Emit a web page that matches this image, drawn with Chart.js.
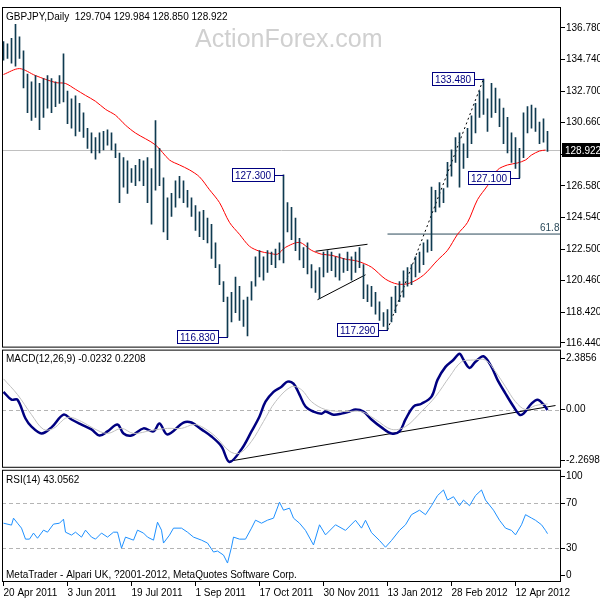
<!DOCTYPE html>
<html>
<head>
<meta charset="utf-8">
<script src="https://cdn.jsdelivr.net/npm/chart.js@4.4.0/dist/chart.umd.min.js"></script>
<style>
  html, body { margin: 0; padding: 0; background: #fff; }
  #chart { display: block; }
</style>
</head>
<body>
<canvas id="chart" width="600" height="600"></canvas>
<script>
// GBPJPY daily, one bar for every two sessions (bar index = session number)
var highs = [135.9,135.75,136.1,137.0,136.2,135.3,133.8,133.3,133.7,133.2,
  133.5,133.7,133.5,133.3,133.7,135.1,132.7,132.2,132.4,131.9,
  131.3,130.3,130.0,129.7,130.0,130.1,130.2,130.0,129.3,128.7,
  128.4,128.2,127.7,127.9,128.3,128.2,128.4,127.7,130.8,129.0,
  127.1,125.8,126.1,126.9,127.2,126.9,126.3,125.8,125.3,124.9,
  125.0,124.5,124.1,122.9,121.5,120.4,119.4,119.7,120.7,120.1,
  119.2,119.4,120.4,122.0,122.4,122.0,122.4,122.3,122.5,122.9,
  127.3,125.5,125.2,124.5,123.2,122.6,122.9,121.5,121.1,121.3,
  122.3,122.4,122.3,122.0,122.2,121.9,122.3,122.0,122.3,122.6,
  121.5,120.2,120.1,119.7,119.1,118.4,118.6,119.4,120.1,120.4,
  121.1,121.3,121.5,122.0,122.3,122.9,123.1,126.5,126.3,126.8,
  126.4,128.1,128.9,129.7,130.0,129.3,130.3,131.1,131.9,132.7,
  133.48,132.2,133.2,132.9,132.2,131.6,131.0,130.0,129.7,129.0,
  131.3,131.7,131.8,131.6,130.7,130.9,130.1];
var lows = [134.7,134.8,134.5,134.3,134.8,132.9,131.3,130.8,131.0,130.2,
  131.0,131.6,131.3,131.7,131.9,132.0,130.6,130.3,129.8,130.1,
  129.7,129.0,128.7,128.3,128.7,128.9,129.2,128.9,128.4,125.5,
  126.5,126.1,126.8,126.6,126.9,126.6,125.5,124.1,126.3,126.6,
  123.6,123.1,124.6,125.2,125.8,125.5,125.2,124.6,123.7,123.3,
  123.1,122.9,121.9,121.3,120.2,119.1,116.83,117.8,118.4,117.9,
  117.5,116.9,119.2,120.1,120.7,120.5,121.0,121.5,121.3,121.8,
  121.6,123.6,123.1,122.4,121.8,121.3,120.9,120.0,119.7,119.3,
  120.7,121.0,121.1,120.7,120.5,121.0,121.1,120.5,121.0,121.3,
  119.3,119.1,118.8,118.3,117.9,117.5,117.29,117.8,118.4,119.1,
  119.4,120.1,120.2,120.7,121.0,121.5,122.3,122.4,124.9,125.2,
  125.5,126.5,127.2,128.1,126.5,127.7,128.4,129.3,130.0,131.0,
  131.2,130.1,131.0,131.3,130.4,129.3,128.7,128.1,127.7,127.1,
  128.4,130.0,130.3,130.1,129.3,129.4,128.8];

// moving average (red)
var maIdx = [0,8,16,26,31,36,41,46,51,56,61,66,76,83,88,93,98,103,108,113,118,123,128,133,137,141,148,154,159,164,171,177,184,191,197,203,210,217,222,227,232,237,242,247,252,257,261,264,268,271];
var maVals = [133.77,134.15,133.70,133.25,133.19,132.81,132.42,132.04,131.52,131.14,130.50,129.99,129.22,128.25,127.93,127.61,127.16,126.33,125.50,124.22,123.45,122.68,122.36,122.23,122.17,122.61,122.93,122.42,122.17,122.10,121.85,121.72,121.33,120.56,120.24,120.30,120.82,121.78,122.42,123.45,124.22,125.69,126.59,127.61,127.93,128.06,128.25,128.57,128.83,128.89];

// MACD main line
var macdIdx = [0,4,7,11,14,19,24,30,34,39,44,48,52,57,60,64,70,75,78,82,90,94,99,104,109,113,119,124,128,131,135,139,142,145,148,151,155,159,161,165,169,173,176,180,184,189,194,198,201,205,209,214,217,221,225,228,230,233,236,240,244,247,251,255,258,260,264,267,270,272];
var macdVals = [0.70,0.39,0.39,-0.35,-0.67,-0.94,-0.70,-0.20,-0.39,-0.59,-0.78,-1.02,-0.86,-0.59,-0.94,-1.02,-0.74,-0.86,-0.55,-0.98,-0.51,-0.51,-0.78,-1.06,-1.45,-2.06,-1.56,-0.86,-0.27,0.31,0.70,0.90,1.10,1.02,0.59,0.12,-0.08,-0.16,-0.08,-0.20,-0.16,-0.08,0.00,-0.08,-0.39,-0.70,-0.94,-0.86,-0.39,0.12,0.23,0.51,1.17,1.68,1.96,2.20,1.96,1.64,1.88,2.10,1.68,1.17,0.63,0.12,-0.20,-0.16,0.23,0.39,0.20,-0.02];
// MACD signal line
var sigIdx = [0,7,14,20,25,32,39,45,52,59,65,74,82,89,95,99,106,113,118,124,130,136,144,149,154,161,171,179,186,194,201,209,216,223,229,235,241,246,251,256,261,266,272];
var sigVals = [1.21,0.59,-0.20,-0.78,-0.74,-0.31,-0.47,-0.74,-0.94,-0.74,-0.94,-0.82,-0.74,-0.74,-0.59,-0.67,-1.06,-1.64,-1.72,-1.25,-0.47,0.31,0.90,0.78,0.31,0.00,-0.08,-0.08,-0.39,-0.78,-0.67,-0.08,0.51,1.29,1.88,1.95,1.95,1.49,0.90,0.31,0.00,0.16,0.22];

// RSI(14)
var rsiIdx = [0,4,5,7,9,11,13,15,17,20,22,25,28,30,31,34,36,39,41,44,46,49,52,55,57,59,61,65,67,70,72,75,77,79,80,83,85,89,92,95,99,102,105,107,110,112,114,115,118,121,124,126,129,132,135,138,140,143,145,148,151,155,158,161,166,171,176,179,181,184,188,191,194,198,201,204,208,211,214,217,220,222,225,228,230,233,236,239,241,245,248,251,254,256,259,261,264,266,269,271,272];
var rsiVals = [52.4,50.7,56.9,52.4,48,38.2,38.2,43.6,39,46.2,44.4,51.6,52.4,56,44.4,41.8,44.4,40,46.2,40,38.2,43.6,40,44.4,44.4,30.2,40,37.3,46.2,43.6,40,37.3,53.3,46.2,34.7,41.8,48,48,44.4,40,37.3,34.7,26.7,27.6,24,16.9,31.1,40,38.2,38.2,48,55.1,52.4,55.1,56.9,71.1,64,65.8,56.9,52.4,46,33,51,42,51,46,55,48,55,44,37,31,37,46,51,60,64,60,68,77,82,73,76,68,73,68,77,82,73,64,55,48,46,42,51,60,57,55,51,46,43.06];

// drawn objects
var fibFrom = [192, 117.29], fibTo = [240, 133.48];
var fibLevel = 123.47;
var triUpper = [[156, 122.36], [182, 122.81]];
var triLower = [[157, 119.23], [181, 120.84]];
var macdTrend = [[113, -2.03], [276, 0.16]];
var bid = 128.922;

var annIdx = [240, 140, 112, 192, 258];
var annVals = [133.48, 127.30, 116.83, 117.29, 127.10];

// axes
var dateIdx = [0, 32, 64, 96, 128, 160, 192, 224, 256];
var dateLabels = ['20 Apr 2011', '3 Jun 2011', '19 Jul 2011', '1 Sep 2011', '17 Oct 2011', '30 Nov 2011', '13 Jan 2012', '28 Feb 2012', '12 Apr 2012'];
var mainTicks = [116.44, 118.42, 120.46, 122.50, 124.54, 126.58, 128.62, 130.66, 132.70, 134.74, 136.78];
var macdTickPos = [2.03, 0, -2.0];
var macdTickText = ['2.3856', '0.00', '-2.2698'];
var rsiTickPos = [94, 70, 30, 6];
var rsiTickText = ['100', '70', '30', '0'];

var FONT = '"Liberation Sans", Arial, sans-serif';
Chart.defaults.font.family = FONT;
Chart.defaults.font.size = 10;
Chart.defaults.color = '#000';

function pts(xs, ys) {
    return xs.map(function(x, i) { return {x: x, y: ys[i]}; });
}
function seg(p) {
    return p.map(function(q) { return {x: q[0], y: q[1]}; });
}

function hline(ctx, x0, x1, y, color, dash) {
    ctx.beginPath();
    ctx.setLineDash(dash || []);
    ctx.strokeStyle = color;
    ctx.lineWidth = 1;
    ctx.moveTo(x0, y);
    ctx.lineTo(x1, y);
    ctx.stroke();
    ctx.setLineDash([]);
}

var overlay = {
    id: 'overlay',
    beforeDatasetsDraw: function(chart) {
        var ctx = chart.ctx, a = chart.chartArea, s = chart.scales;
        ctx.save();
        ctx.fillStyle = '#d0d0d0';
        ctx.font = '25px ' + FONT;
        ctx.textBaseline = 'alphabetic';
        ctx.textAlign = 'left';
        ctx.fillText('ActionForex.com', 195, 47);

        var yb = Math.round(s.y.getPixelForValue(bid)) + 0.5;
        hline(ctx, a.left, a.right, yb, '#c0c0c0');
        var y0 = Math.round(s.yMacd.getPixelForValue(0)) + 0.5;
        hline(ctx, a.left, a.right, y0, '#b4b4b4', [4, 3]);
        [70, 30].forEach(function(v) {
            var yy = Math.round(s.yRsi.getPixelForValue(v)) + 0.5;
            hline(ctx, a.left, a.right, yy, '#b4b4b4', [4, 3]);
        });
        ctx.restore();
    },
    afterDraw: function(chart) {
        var ctx = chart.ctx, a = chart.chartArea, s = chart.scales;
        ctx.save();
        // panel frames
        ctx.strokeStyle = '#000';
        ctx.lineWidth = 1;
        var panes = [[s.y.top, s.y.bottom - 2], [s.yMacd.top, s.yMacd.bottom - 2], [s.yRsi.top, s.yRsi.bottom]];
        panes.forEach(function(p) {
            ctx.strokeRect(a.left + 0.5, p[0] + 0.5, a.right - a.left - 1, p[1] - p[0] - 1);
        });

        // price labels
        ctx.font = '10px ' + FONT;
        ctx.textBaseline = 'middle';
        annIdx.forEach(function(ix, i) {
            var px = Math.round(s.x.getPixelForValue(ix));
            var py = Math.round(s.y.getPixelForValue(annVals[i]));
            var txt = annVals[i].toFixed(3);
            var w = Math.ceil(ctx.measureText(txt).width) + 6;
            var right = px - 9;
            ctx.fillStyle = '#fff';
            ctx.fillRect(right - w, py - 7, w, 14);
            ctx.strokeStyle = '#000080';
            ctx.strokeRect(right - w + 0.5, py - 6.5, w - 1, 13);
            hline(ctx, right, px, py + 0.5, '#000080');
            ctx.fillStyle = '#000080';
            ctx.textAlign = 'left';
            ctx.fillText(txt, right - w + 3, py + 1);
        });

        // fib level caption
        ctx.fillStyle = '#2b4a5a';
        ctx.textAlign = 'left';
        ctx.fillText('61.8', 540, Math.round(s.y.getPixelForValue(fibLevel)) - 6);

        // bid marker on axis
        var yb = Math.round(s.y.getPixelForValue(bid));
        ctx.fillStyle = '#000';
        ctx.fillRect(a.right + 1, yb - 7, 600 - a.right - 1, 14);
        ctx.fillStyle = '#fff';
        ctx.fillText(bid.toFixed(3), a.right + 4, yb + 1);

        // pane captions
        ctx.fillStyle = '#000';
        ctx.textAlign = 'left';
        ctx.fillText('GBPJPY,Daily  129.704 129.984 128.850 128.922', 6, s.y.top + 10);
        ctx.fillText('MACD(12,26,9) -0.0232 0.2208', 6, s.yMacd.top + 10);
        ctx.fillText('RSI(14) 43.0562', 6, s.yRsi.top + 10);
        ctx.fillText('MetaTrader - Alpari UK, ?2001-2012, MetaQuotes Software Corp.', 6, s.yRsi.bottom - 7);
        ctx.restore();
    }
};

function rightAxis(weight, min, max, tickPos, tickText) {
    return {
        type: 'linear',
        position: 'right',
        stack: 'panes',
        stackWeight: weight,
        min: min,
        max: max,
        beginAtZero: false,
        border: { display: false },
        grid: { drawOnChartArea: false, tickLength: 4, color: '#000' },
        ticks: {
            autoSkip: false,
            padding: 1,
            color: '#000',
            font: { size: 10 },
            callback: function(v, i) { return tickText ? tickText[i] : Number(v).toFixed(3); }
        },
        afterBuildTicks: function(sc) {
            sc.ticks = tickPos.map(function(v) { return {value: v}; });
        },
        afterFit: function(sc) { sc.width = 39; }
    };
}

var ctx = document.getElementById('chart').getContext('2d');
var chart = new Chart(ctx, {
    type: 'bar',
    data: {
        datasets: [{
            type: 'bar',
            data: highs.map(function(h, k) { return {x: k * 2, y: [lows[k], h]}; }),
            yAxisID: 'y',
            backgroundColor: '#0f3a50',
            borderWidth: 0,
            barThickness: 1
        }, {
            type: 'line',
            data: pts(maIdx, maVals),
            yAxisID: 'y',
            borderColor: '#ff0000',
            borderWidth: 1,
            pointRadius: 0,
            tension: 0.3
        }, {
            type: 'line',
            data: seg([fibFrom, fibTo]),
            yAxisID: 'y',
            borderColor: '#000',
            borderWidth: 1,
            borderDash: [2, 3],
            pointRadius: 0
        }, {
            type: 'line',
            data: seg([[fibFrom[0], fibLevel], [279, fibLevel]]),
            yAxisID: 'y',
            borderColor: '#2b4a5a',
            borderWidth: 1,
            pointRadius: 0
        }, {
            type: 'line',
            data: seg(triUpper),
            yAxisID: 'y',
            borderColor: '#000',
            borderWidth: 1,
            pointRadius: 0
        }, {
            type: 'line',
            data: seg(triLower),
            yAxisID: 'y',
            borderColor: '#000',
            borderWidth: 1,
            pointRadius: 0
        }, {
            type: 'line',
            data: pts(sigIdx, sigVals),
            yAxisID: 'yMacd',
            borderColor: '#c0c0c0',
            borderWidth: 1,
            pointRadius: 0,
            tension: 0.35
        }, {
            type: 'line',
            data: pts(macdIdx, macdVals),
            yAxisID: 'yMacd',
            borderColor: '#000080',
            borderWidth: 2.5,
            pointRadius: 0,
            tension: 0.35
        }, {
            type: 'line',
            data: seg(macdTrend),
            yAxisID: 'yMacd',
            borderColor: '#000',
            borderWidth: 1,
            pointRadius: 0
        }, {
            type: 'line',
            data: pts(rsiIdx, rsiVals),
            yAxisID: 'yRsi',
            borderColor: '#1e90ff',
            borderWidth: 1,
            pointRadius: 0,
            tension: 0
        }]
    },
    options: {
        responsive: false,
        animation: false,
        devicePixelRatio: 1,
        layout: { padding: { left: 2, top: 3, right: 0, bottom: 0 } },
        plugins: { legend: { display: false }, tooltip: { enabled: false } },
        scales: {
            y: rightAxis(345, 116.01, 138.126, mainTicks, null),
            yMacd: rightAxis(121, -2.37, 2.36, macdTickPos, macdTickText),
            yRsi: rightAxis(113, 0, 100, rsiTickPos, rsiTickText),
            x: {
                type: 'linear',
                position: 'bottom',
                min: -0.75,
                max: 278.75,
                offset: false,
                border: { display: false },
                grid: { drawOnChartArea: false, offset: false, tickLength: 4, color: '#000' },
                ticks: {
                    autoSkip: false,
                    maxRotation: 0,
                    align: 'start',
                    padding: 1,
                    color: '#000',
                    font: { size: 10 },
                    callback: function(v, i) { return dateLabels[i]; }
                },
                afterBuildTicks: function(sc) {
                    sc.ticks = dateIdx.map(function(v) { return {value: v}; });
                },
                afterFit: function(sc) { sc.height = 18; }
            }
        }
    },
    plugins: [overlay]
});
</script>
</body>
</html>
